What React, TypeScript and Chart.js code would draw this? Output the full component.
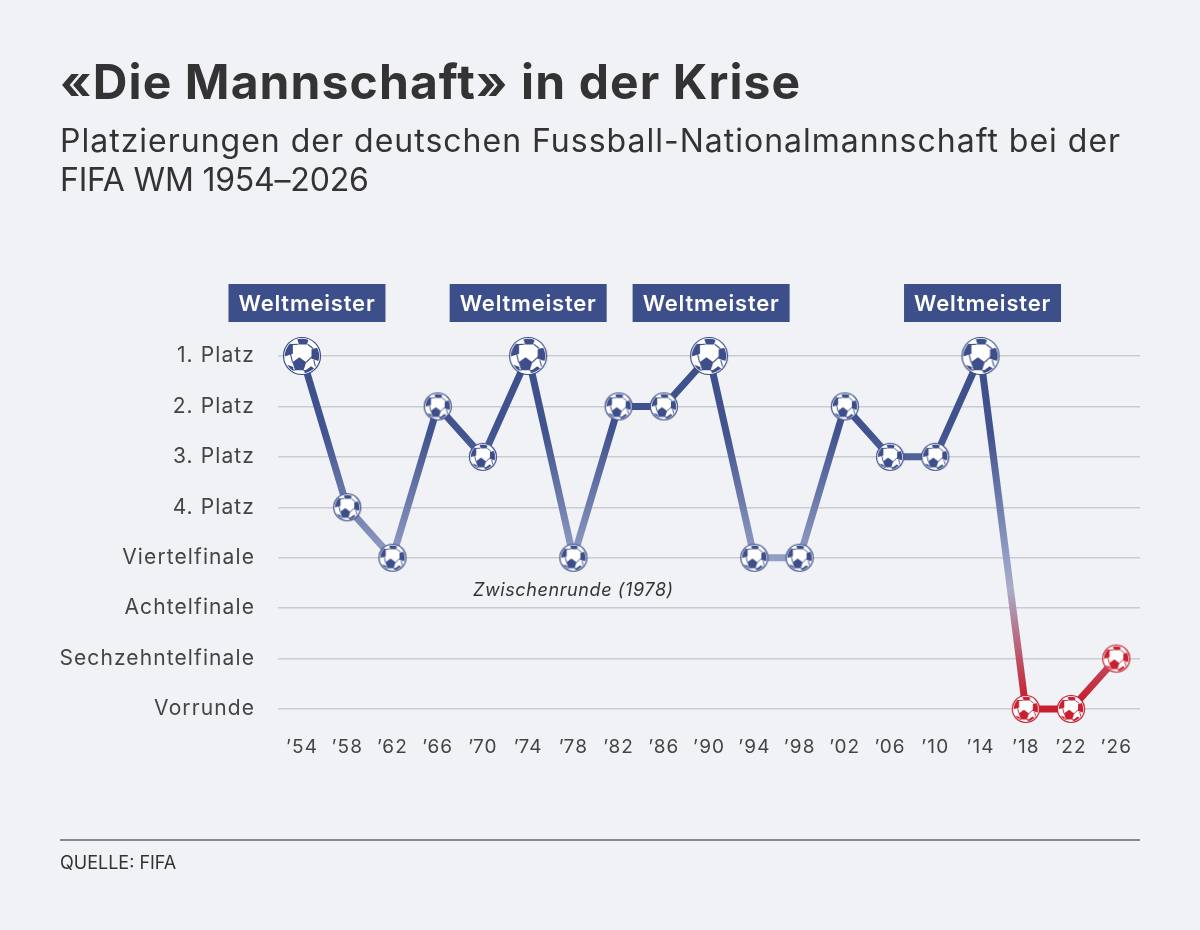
import { useEffect, useRef } from 'react';
import { Chart, registerables } from 'chart.js';

Chart.register(...registerables);

const FONT = 'Inter, "Open Sans", sans-serif';
const NAVY = '#3d4f8a';
const RED = '#c8202f';

const years = [1954, 1958, 1962, 1966, 1970, 1974, 1978, 1982, 1986, 1990, 1994, 1998, 2002, 2006, 2010, 2014, 2018, 2022, 2026];
const yearLabels = ['’54', '’58', '’62', '’66', '’70', '’74', '’78', '’82', '’86', '’90', '’94', '’98', '’02', '’06', '’10', '’14', '’18', '’22', '’26'];
const placements = [1, 4, 5, 2, 3, 1, 5, 2, 2, 1, 5, 5, 2, 3, 3, 1, 8, 8, 7];
const rankLabels = ['1. Platz', '2. Platz', '3. Platz', '4. Platz', 'Viertelfinale', 'Achtelfinale', 'Sechzehntelfinale', 'Vorrunde'];
const championYears = [1954, 1974, 1990, 2014];
// the boxes sit a little beside their ball in the original
const boxNudge = [5, 0, 2, 2];

// soccer ball marker, patches are given relative to the radius
function makeBall(radius: number, color: string) {
  const size = radius * 2 + 2;
  const c = document.createElement('canvas');
  c.width = size;
  c.height = size;
  const ctx = c.getContext('2d')!;
  const m = size / 2;

  ctx.beginPath();
  ctx.arc(m, m, radius - 0.5, 0, Math.PI * 2);
  ctx.fillStyle = '#fff';
  ctx.fill();
  ctx.lineWidth = 1.2;
  ctx.strokeStyle = color;
  ctx.stroke();

  ctx.save();
  ctx.beginPath();
  ctx.arc(m, m, radius - 1.8, 0, Math.PI * 2);
  ctx.clip();
  const patches = [
    [-0.14, 0.44, 0.38, -Math.PI / 2],
    [0.05, -0.9, 0.36, -Math.PI / 2],
    [-0.82, -0.36, 0.42, Math.PI],
    [0.84, -0.1, 0.42, 0],
    [-0.72, 0.76, 0.32, -0.6],
    [0.48, 0.92, 0.38, -Math.PI / 2],
  ];
  ctx.fillStyle = color;
  for (const [x, y, r, rot] of patches) {
    ctx.beginPath();
    for (let i = 0; i < 5; i++) {
      const a = rot + (i * Math.PI * 2) / 5;
      ctx.lineTo(m + (x + Math.cos(a) * r) * radius, m + (y + Math.sin(a) * r) * radius);
    }
    ctx.closePath();
    ctx.fill();
  }
  ctx.strokeStyle = color;
  ctx.lineWidth = radius > 15 ? 1.1 : 0.9;
  const seams = [
    [-0.5, 0.33, -0.6, -0.1],
    [0.22, 0.33, 0.55, 0.02],
    [-0.6, -0.6, -0.2, -0.62],
    [0.3, -0.62, 0.6, -0.38],
    [-0.36, 0.75, -0.5, 0.72],
    [0.08, 0.75, 0.26, 0.8],
    [0.62, 0.22, 0.72, 0.6],
  ];
  for (const [x1, y1, x2, y2] of seams) {
    ctx.beginPath();
    ctx.moveTo(m + x1 * radius, m + y1 * radius);
    ctx.lineTo(m + x2 * radius, m + y2 * radius);
    ctx.stroke();
  }
  ctx.restore();
  return c;
}

export default function App() {
  const canvasRef = useRef<HTMLCanvasElement>(null);

  useEffect(() => {
    document.body.style.margin = '0';
    if (!canvasRef.current) return;

    const balls = {
      navyBig: makeBall(19, NAVY),
      navy: makeBall(14, NAVY),
      red: makeBall(14, RED),
    };

    const labelsPlugin = {
      id: 'labels',
      beforeDraw(chart: any) {
        chart.ctx.letterSpacing = '1.1px';
      },
      afterDatasetsDraw(chart: any) {
        const { ctx, scales } = chart;
        ctx.save();
        ctx.textAlign = 'center';
        ctx.textBaseline = 'middle';
        championYears.forEach((year, i) => {
          const x = scales.x.getPixelForValue(year) + boxNudge[i];
          ctx.fillStyle = NAVY;
          ctx.fillRect(x - 78.5, 284, 157, 38);
          ctx.fillStyle = '#fff';
          ctx.font = `600 22px ${FONT}`;
          ctx.letterSpacing = '0.8px';
          ctx.fillText('Weltmeister', x, 304);
        });
        ctx.fillStyle = '#333';
        ctx.font = `italic 400 18px ${FONT}`;
        ctx.letterSpacing = '0.6px';
        ctx.fillText('Zwischenrunde (1978)', scales.x.getPixelForValue(1978), scales.y.getPixelForValue(5.66));
        ctx.restore();
      },
    };

    const chart = new Chart(canvasRef.current, {
      type: 'line',
      data: {
        datasets: [
          {
            data: years.map((year, i) => ({ x: year, y: placements[i] })),
            borderWidth: 7,
            borderJoinStyle: 'round',
            tension: 0,
            clip: false as any,
            borderColor: (c: any) => {
              const area = c.chart.chartArea;
              if (!area) return NAVY;
              const g = c.chart.ctx.createLinearGradient(0, area.top, 0, area.bottom);
              g.addColorStop(0, NAVY);
              g.addColorStop(0.22, '#42548f');
              g.addColorStop(0.6, '#98a3c8');
              g.addColorStop(0.66, '#a9abc9');
              g.addColorStop(0.97, RED);
              g.addColorStop(1, RED);
              return g;
            },
            pointStyle: (c: any) => {
              const v = placements[c.dataIndex];
              if (v >= 7) return balls.red;
              return championYears.includes(years[c.dataIndex]) ? balls.navyBig : balls.navy;
            },
            pointRadius: (c: any) => (championYears.includes(years[c.dataIndex]) ? 19 : 14),
          },
        ],
      },
      options: {
        animation: false,
        responsive: false,
        events: [],
        layout: { padding: { top: 356, right: 60, left: 0, bottom: 0 } },
        plugins: { legend: { display: false }, tooltip: { enabled: false } },
        scales: {
          x: {
            type: 'linear',
            min: 1951.88,
            max: 2028.1,
            grid: { display: false },
            border: { display: false },
            afterBuildTicks: (axis: any) => {
              axis.ticks = years.map((value) => ({ value }));
            },
            afterFit: (axis: any) => {
              axis.height = 221;
            },
            ticks: {
              autoSkip: false,
              maxRotation: 0,
              padding: 19,
              color: '#444',
              font: { family: FONT, size: 19 },
              callback: (v: any) => yearLabels[years.indexOf(Number(v))],
            },
          },
          y: {
            reverse: true,
            min: 1,
            max: 8,
            afterFit: (axis: any) => {
              axis.width = 278;
            },
            grid: { color: '#cbccd1', lineWidth: 1.4, drawTicks: false },
            border: { display: false },
            ticks: {
              stepSize: 1,
              padding: 23,
              color: '#444',
              font: { family: FONT, size: 21 },
              callback: (v: any) => rankLabels[Number(v) - 1],
            },
          },
        },
      },
      plugins: [labelsPlugin],
    } as any);

    return () => chart.destroy();
  }, []);

  return (
    <div style={{ position: 'relative', width: 1200, height: 930, background: '#f0f2f6', fontFamily: FONT, color: '#333', overflow: 'hidden' }}>
      <canvas ref={canvasRef} width={1200} height={930} style={{ position: 'absolute', left: 0, top: 0 }} />
      <div style={{ position: 'absolute', left: 60, top: 52, fontSize: 48, letterSpacing: 1.1, lineHeight: '60px', fontWeight: 700, whiteSpace: 'nowrap' }}>
        «Die Mannschaft» in der Krise
      </div>
      <div style={{ position: 'absolute', left: 60, top: 121, fontSize: 32, lineHeight: '39px', whiteSpace: 'nowrap' }}>
        <span style={{ letterSpacing: 1 }}>Platzierungen der deutschen Fussball-Nationalmannschaft bei der</span>
        <br />
        <span style={{ letterSpacing: -0.2 }}>FIFA WM 1954–2026</span>
      </div>
      <div style={{ position: 'absolute', left: 60, top: 839, width: 1080, height: 2, background: '#8a8a8e' }} />
      <div style={{ position: 'absolute', left: 60, top: 852, fontSize: 18, lineHeight: '22px' }}>QUELLE: FIFA</div>
    </div>
  );
}
